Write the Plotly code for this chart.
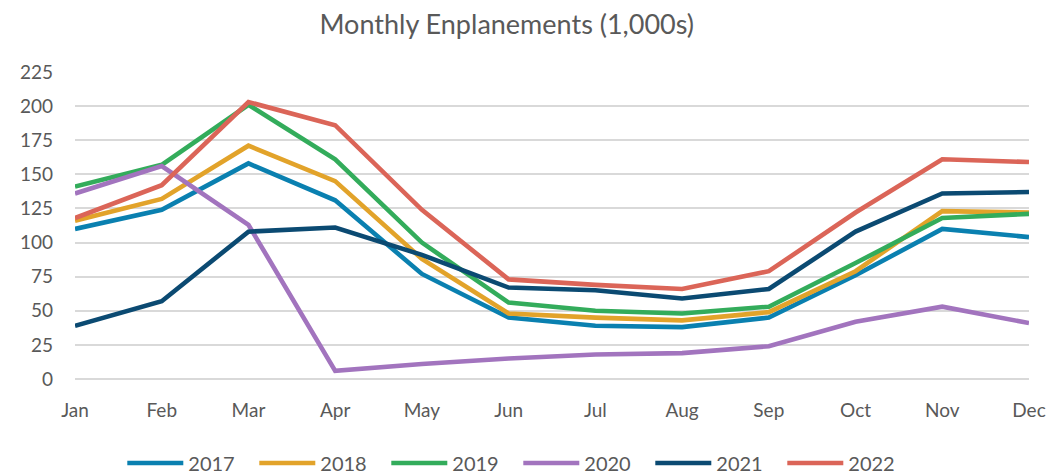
import plotly.graph_objects as go

months = ["Jan", "Feb", "Mar", "Apr", "May", "Jun", "Jul", "Aug", "Sep", "Oct", "Nov", "Dec"]

y2017 = [110, 124, 158, 131, 77, 45, 39, 38, 45, 76, 110, 104]
y2018 = [116, 132, 171, 145, 88, 48, 45, 43, 49, 79, 123, 122]
y2019 = [141, 157, 201, 161, 100, 56, 50, 48, 53, 85, 118, 121]
y2020 = [136, 156, 113, 6, 11, 15, 18, 19, 24, 42, 53, 41]
y2021 = [39, 57, 108, 111, 91, 67, 65, 59, 66, 108, 136, 137]
y2022 = [118, 142, 203, 186, 124, 73, 69, 66, 79, 122, 161, 159]

series = [
    ("2017", y2017, "#0A80B0"),
    ("2018", y2018, "#E2A32A"),
    ("2019", y2019, "#33AC5B"),
    ("2020", y2020, "#A274BE"),
    ("2021", y2021, "#0B4A72"),
    ("2022", y2022, "#DB6558"),
]

FONT = "Lato"
GREY = "#595959"

fig = go.Figure()
for name, vals, color in series:
    fig.add_trace(go.Scatter(
        x=months, y=vals, name=name, mode="lines",
        line=dict(color=color, width=4.6),
    ))

# page body has an 8px margin, so the figure is sized/offset to compensate
W, H = 1050, 467
fig.update_layout(
    width=W, height=H,
    margin=dict(l=56, r=23, t=64, b=96),
    paper_bgcolor="white", plot_bgcolor="white",
    title=dict(text="Monthly Enplanements (1,000s)", x=0.475, xanchor="center",
               y=1 - 17 / H, yanchor="middle",
               font=dict(family=FONT, size=27, color=GREY)),
    font=dict(family=FONT, size=19, color=GREY),
    showlegend=True,
    legend=dict(orientation="h", xref="container", yref="container",
                x=0.486, xanchor="center", y=12 / H, yanchor="middle",
                font=dict(family=FONT, size=20, color=GREY),
                itemwidth=56, entrywidth=61, entrywidthmode="pixels"),
    xaxis=dict(type="category", range=[0, 11], showgrid=False, zeroline=False,
               showline=False, ticks="", ticklabelstandoff=18,
               tickfont=dict(family=FONT, size=19, color=GREY)),
    yaxis=dict(range=[0, 225], tickvals=[0, 25, 50, 75, 100, 125, 150, 175, 200, 225],
               showgrid=True, gridcolor="#D9D9D9", gridwidth=1.5,
               zeroline=True, zerolinecolor="#D9D9D9", zerolinewidth=1.5,
               showline=False, ticks="", ticklabelstandoff=21,
               tickfont=dict(family=FONT, size=19, color=GREY)),
)

fig.write_html("out.html")
